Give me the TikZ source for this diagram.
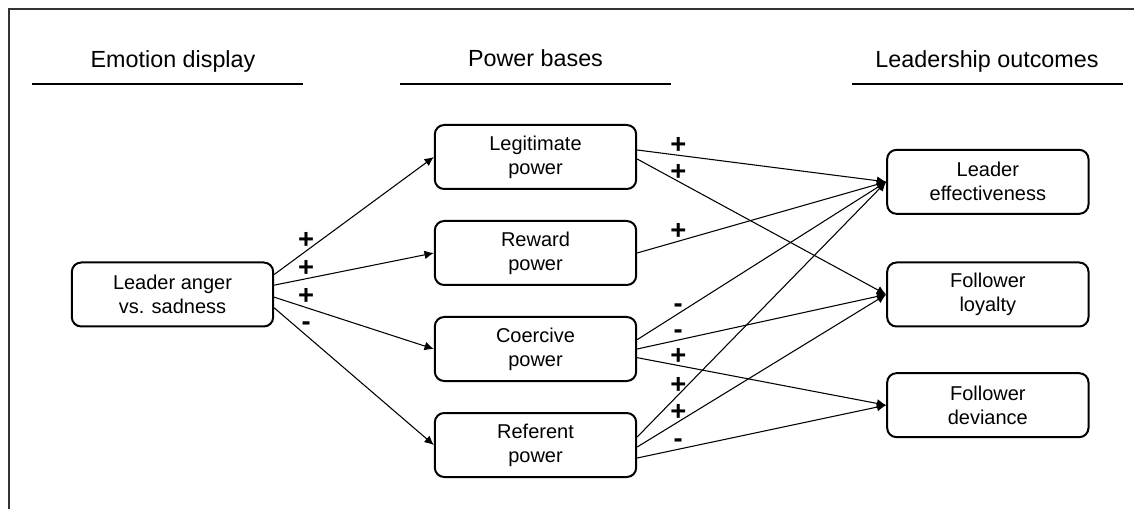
\documentclass[tikz,border=0pt]{standalone}
\usepackage{fontspec}
\setmainfont{Liberation Sans}
\usetikzlibrary{arrows.meta}
\usetikzlibrary{positioning}

\begin{document}
\begin{tikzpicture}[x=0.75pt, y=0.75pt, on grid, node distance=72pt,
    >={Latex[length=7pt,width=6.5pt]},
    box/.style={draw, line width=1.5pt, rounded corners=7pt, minimum width=151pt,
      minimum height=48pt, align=center, font=\fontsize{15}{18}\selectfont},
    head/.style={anchor=base, font=\fontsize{17.5}{21}\selectfont},
    rule/.style={line width=2pt},
    sgn/.style={anchor=base, inner sep=0pt, font=\fontsize{20.5}{20.5}\selectfont\bfseries},
    ls/.style={sgn, pos=0.2, yshift=2pt},
    rs/.style={sgn, pos=0.165, yshift=1pt}]
  \useasboundingbox (0,0) rectangle (1134,-509);
  \draw[line width=1.5pt, black!80] (8.5,-509) -- (8.5,-9.5) -- (1134,-9.5);

  % column heads
  \node[head] (h_emo) at (173,-68)   {Emotion display};
  \node[head] (h_pow) at (535.5,-67) {Power bases};
  \node[head] (h_out) at (987,-68)   {Leadership outcomes};
  \draw[rule] (32,-84)  -- (303,-84);
  \draw[rule] (400,-84) -- (671,-84);
  \draw[rule] (852,-84) -- (1123,-84);

  % boxes
  \node[box] (anger)  at (172.5,-294.5)       {Leader anger\\vs. sadness};
  \node[box] (legit)  at (535.5,-157)         {Legitimate\\power};
  \node[box] (reward) [below=of legit]        {Reward\\power};
  \node[box] (coerc)  [below=of reward]       {Coercive\\power};
  \node[box] (refer)  [below=of coerc]        {Referent\\power};
  \node[box] (loyal)  [right=611.5pt of anger] {Follower\\loyalty};
  \node[box] (effect) [above=84.5pt of loyal] {Leader\\effectiveness};
  \node[box] (devia)  [below=83pt of loyal]   {Follower\\deviance};

  \path[->, line width=0.8pt]
    ([yshift=15pt]anger.east)    edge node[ls] {+} (legit.west)
    ([yshift=7pt]anger.east)     edge node[ls] {+} (reward.west)
    ([yshift=-2pt]anger.east)    edge node[ls] {+} (coerc.west)
    ([yshift=-10pt]anger.east)   edge node[ls, yshift=1.5pt] {-} (refer.west)
    ([yshift=5.25pt]legit.east)  edge node[rs] {+} (effect.west)
    ([yshift=-1.5pt]legit.east)  edge node[rs] {+} (loyal.west)
    (reward.east)                edge node[rs] {+} (effect.west)
    ([yshift=7pt]coerc.east)     edge node[rs] {-} (effect.west)
    (coerc.east)                 edge node[rs] {-} (loyal.west)
    ([yshift=-6.5pt]coerc.east)  edge node[rs] {+} (devia.west)
    ([yshift=6pt]refer.east)     edge node[rs] {+} (effect.west)
    ([yshift=-1.5pt]refer.east)  edge node[rs] {+} (loyal.west)
    ([yshift=-9.75pt]refer.east) edge node[rs] {-} (devia.west);
\end{tikzpicture}
\end{document}
